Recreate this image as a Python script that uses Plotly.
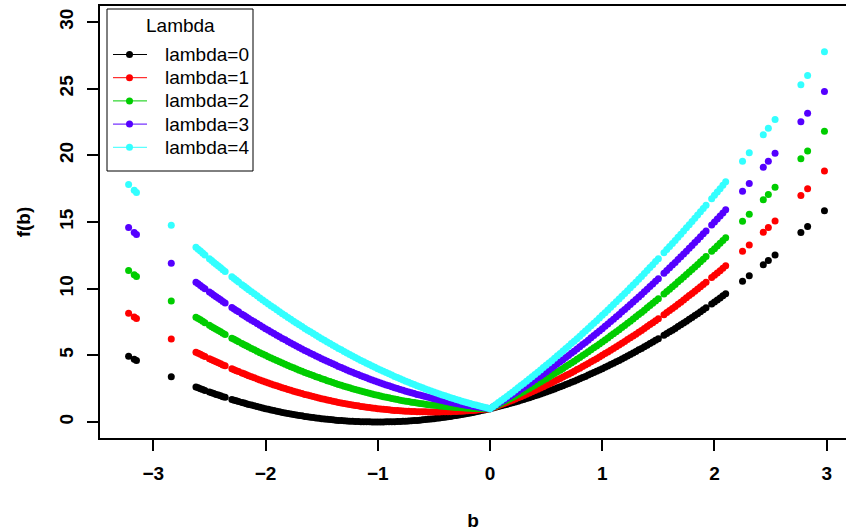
import plotly.graph_objects as go

# sampled coefficients b
b = [
    -3.22, -3.17, -3.15, -2.84,
    -2.62, -2.60, -2.58, -2.56, -2.54,
    -2.50, -2.48, -2.46, -2.44, -2.42, -2.40, -2.38, -2.36,
    -2.30, -2.28, -2.26, -2.24, -2.21, -2.19, -2.17,
    -2.150, -2.125, -2.100, -2.075, -2.050, -2.025, -2.000, -1.975, -1.950, -1.925,
    -1.900, -1.875, -1.850, -1.825, -1.800, -1.775, -1.750, -1.725, -1.700, -1.675,
    -1.650, -1.625, -1.600, -1.575, -1.550, -1.525, -1.500, -1.475, -1.450, -1.425,
    -1.400, -1.375, -1.350, -1.325, -1.300, -1.275, -1.250, -1.225, -1.200, -1.175,
    -1.150, -1.125, -1.100, -1.075, -1.050, -1.025, -1.000, -0.975, -0.950, -0.925,
    -0.900, -0.875, -0.850, -0.825, -0.800, -0.775, -0.750, -0.725, -0.700, -0.675,
    -0.650, -0.625, -0.600, -0.575, -0.550, -0.525, -0.500, -0.475, -0.450, -0.425,
    -0.400, -0.375, -0.350, -0.325, -0.300, -0.275, -0.250, -0.225, -0.200, -0.175,
    -0.150, -0.125, -0.100, -0.075, -0.050, -0.025, 0.000, 0.025, 0.050, 0.075,
    0.100, 0.125, 0.150, 0.175, 0.200, 0.225, 0.250, 0.275, 0.300, 0.325,
    0.350, 0.375, 0.400, 0.425, 0.450, 0.475, 0.500, 0.525, 0.550, 0.575,
    0.600, 0.625, 0.650, 0.675, 0.700, 0.725, 0.750, 0.775, 0.800, 0.825,
    0.850, 0.875, 0.900, 0.925, 0.950, 0.975, 1.000, 1.025, 1.050, 1.075,
    1.100, 1.125, 1.150, 1.175, 1.200, 1.225, 1.250, 1.275, 1.300, 1.325,
    1.350, 1.375, 1.400, 1.425, 1.450, 1.475, 1.500, 1.550, 1.575, 1.600,
    1.625, 1.650, 1.675, 1.700, 1.725, 1.750, 1.775, 1.800, 1.825, 1.850,
    1.875, 1.900, 1.925, 1.975, 2.000, 2.025, 2.050, 2.075, 2.100,
    2.25, 2.31, 2.435, 2.48, 2.54, 2.77, 2.83, 2.98,
]

# f(b) for lambda = 0
f_lambda0 = [
    4.93, 4.71, 4.62, 3.39,
    2.62, 2.56, 2.50, 2.43, 2.37,
    2.25, 2.19, 2.13, 2.07, 2.02, 1.96, 1.90, 1.85,
    1.69, 1.64, 1.59, 1.54, 1.46, 1.42, 1.37,
    1.32, 1.27, 1.21, 1.16, 1.10, 1.05, 1.00, 0.95, 0.90, 0.86,
    0.81, 0.77, 0.72, 0.68, 0.64, 0.60, 0.56, 0.53, 0.49, 0.46,
    0.42, 0.39, 0.36, 0.33, 0.30, 0.28, 0.25, 0.23, 0.20, 0.18,
    0.16, 0.14, 0.12, 0.11, 0.09, 0.08, 0.06, 0.05, 0.04, 0.03,
    0.02, 0.02, 0.01, 0.01, 0.00, 0.00, 0.00, 0.00, 0.00, 0.01,
    0.01, 0.02, 0.02, 0.03, 0.04, 0.05, 0.06, 0.08, 0.09, 0.11,
    0.12, 0.14, 0.16, 0.18, 0.20, 0.23, 0.25, 0.28, 0.30, 0.33,
    0.36, 0.39, 0.42, 0.46, 0.49, 0.53, 0.56, 0.60, 0.64, 0.68,
    0.72, 0.77, 0.81, 0.86, 0.90, 0.95, 1.00, 1.05, 1.10, 1.16,
    1.21, 1.27, 1.32, 1.38, 1.44, 1.50, 1.56, 1.63, 1.69, 1.76,
    1.82, 1.89, 1.96, 2.03, 2.10, 2.18, 2.25, 2.33, 2.40, 2.48,
    2.56, 2.64, 2.72, 2.81, 2.89, 2.98, 3.06, 3.15, 3.24, 3.33,
    3.42, 3.52, 3.61, 3.71, 3.80, 3.90, 4.00, 4.10, 4.20, 4.31,
    4.41, 4.52, 4.62, 4.73, 4.84, 4.95, 5.06, 5.18, 5.29, 5.41,
    5.52, 5.64, 5.76, 5.88, 6.00, 6.13, 6.25, 6.50, 6.63, 6.76,
    6.89, 7.02, 7.16, 7.29, 7.43, 7.56, 7.70, 7.84, 7.98, 8.12,
    8.27, 8.41, 8.56, 8.85, 9.00, 9.15, 9.30, 9.46, 9.61,
    10.56, 10.96, 11.80, 12.11, 12.53, 14.21, 14.67, 15.84,
]

# f(b) for lambda = 1
f_lambda1 = [
    8.15, 7.88, 7.77, 6.23,
    5.24, 5.16, 5.08, 4.99, 4.91,
    4.75, 4.67, 4.59, 4.51, 4.44, 4.36, 4.28, 4.21,
    3.99, 3.92, 3.85, 3.78, 3.67, 3.61, 3.54,
    3.47, 3.39, 3.31, 3.23, 3.15, 3.08, 3.00, 2.93, 2.85, 2.78,
    2.71, 2.64, 2.57, 2.51, 2.44, 2.38, 2.31, 2.25, 2.19, 2.13,
    2.07, 2.02, 1.96, 1.91, 1.85, 1.80, 1.75, 1.70, 1.65, 1.61,
    1.56, 1.52, 1.47, 1.43, 1.39, 1.35, 1.31, 1.28, 1.24, 1.21,
    1.17, 1.14, 1.11, 1.08, 1.05, 1.03, 1.00, 0.98, 0.95, 0.93,
    0.91, 0.89, 0.87, 0.86, 0.84, 0.83, 0.81, 0.80, 0.79, 0.78,
    0.77, 0.77, 0.76, 0.76, 0.75, 0.75, 0.75, 0.75, 0.75, 0.76,
    0.76, 0.77, 0.77, 0.78, 0.79, 0.80, 0.81, 0.83, 0.84, 0.86,
    0.87, 0.89, 0.91, 0.93, 0.95, 0.98, 1.00, 1.08, 1.15, 1.23,
    1.31, 1.39, 1.47, 1.56, 1.64, 1.73, 1.81, 1.90, 1.99, 2.08,
    2.17, 2.27, 2.36, 2.46, 2.55, 2.65, 2.75, 2.85, 2.95, 3.06,
    3.16, 3.27, 3.37, 3.48, 3.59, 3.70, 3.81, 3.93, 4.04, 4.16,
    4.27, 4.39, 4.51, 4.63, 4.75, 4.88, 5.00, 5.13, 5.25, 5.38,
    5.51, 5.64, 5.77, 5.91, 6.04, 6.18, 6.31, 6.45, 6.59, 6.73,
    6.87, 7.02, 7.16, 7.31, 7.45, 7.60, 7.75, 8.05, 8.21, 8.36,
    8.52, 8.67, 8.83, 8.99, 9.15, 9.31, 9.48, 9.64, 9.81, 9.97,
    10.14, 10.31, 10.48, 10.83, 11.00, 11.18, 11.35, 11.53, 11.71,
    12.81, 13.27, 14.23, 14.59, 15.07, 16.98, 17.50, 18.82,
]

# f(b) for lambda = 2
f_lambda2 = [
    11.37, 11.05, 10.92, 9.07,
    7.86, 7.76, 7.66, 7.55, 7.45,
    7.25, 7.15, 7.05, 6.95, 6.86, 6.76, 6.66, 6.57,
    6.29, 6.20, 6.11, 6.02, 5.88, 5.80, 5.71,
    5.62, 5.52, 5.41, 5.31, 5.20, 5.10, 5.00, 4.90, 4.80, 4.71,
    4.61, 4.52, 4.42, 4.33, 4.24, 4.15, 4.06, 3.98, 3.89, 3.81,
    3.72, 3.64, 3.56, 3.48, 3.40, 3.33, 3.25, 3.18, 3.10, 3.03,
    2.96, 2.89, 2.82, 2.76, 2.69, 2.63, 2.56, 2.50, 2.44, 2.38,
    2.32, 2.27, 2.21, 2.16, 2.10, 2.05, 2.00, 1.95, 1.90, 1.86,
    1.81, 1.77, 1.72, 1.68, 1.64, 1.60, 1.56, 1.53, 1.49, 1.46,
    1.42, 1.39, 1.36, 1.33, 1.30, 1.28, 1.25, 1.23, 1.20, 1.18,
    1.16, 1.14, 1.12, 1.11, 1.09, 1.08, 1.06, 1.05, 1.04, 1.03,
    1.02, 1.02, 1.01, 1.01, 1.00, 1.00, 1.00, 1.10, 1.20, 1.31,
    1.41, 1.52, 1.62, 1.73, 1.84, 1.95, 2.06, 2.18, 2.29, 2.41,
    2.52, 2.64, 2.76, 2.88, 3.00, 3.13, 3.25, 3.38, 3.50, 3.63,
    3.76, 3.89, 4.02, 4.16, 4.29, 4.43, 4.56, 4.70, 4.84, 4.98,
    5.12, 5.27, 5.41, 5.56, 5.70, 5.85, 6.00, 6.15, 6.30, 6.46,
    6.61, 6.77, 6.92, 7.08, 7.24, 7.40, 7.56, 7.73, 7.89, 8.06,
    8.22, 8.39, 8.56, 8.73, 8.90, 9.08, 9.25, 9.60, 9.78, 9.96,
    10.14, 10.32, 10.51, 10.69, 10.88, 11.06, 11.25, 11.44, 11.63, 11.82,
    12.02, 12.21, 12.41, 12.80, 13.00, 13.20, 13.40, 13.61, 13.81,
    15.06, 15.58, 16.67, 17.07, 17.61, 19.75, 20.33, 21.80,
]

# f(b) for lambda = 3
f_lambda3 = [
    14.59, 14.22, 14.07, 11.91,
    10.48, 10.36, 10.24, 10.11, 9.99,
    9.75, 9.63, 9.51, 9.39, 9.28, 9.16, 9.04, 8.93,
    8.59, 8.48, 8.37, 8.26, 8.09, 7.99, 7.88,
    7.77, 7.64, 7.51, 7.38, 7.25, 7.13, 7.00, 6.88, 6.75, 6.63,
    6.51, 6.39, 6.27, 6.16, 6.04, 5.93, 5.81, 5.70, 5.59, 5.48,
    5.37, 5.27, 5.16, 5.06, 4.95, 4.85, 4.75, 4.65, 4.55, 4.46,
    4.36, 4.27, 4.17, 4.08, 3.99, 3.90, 3.81, 3.73, 3.64, 3.56,
    3.47, 3.39, 3.31, 3.23, 3.15, 3.08, 3.00, 2.93, 2.85, 2.78,
    2.71, 2.64, 2.57, 2.51, 2.44, 2.38, 2.31, 2.25, 2.19, 2.13,
    2.07, 2.02, 1.96, 1.91, 1.85, 1.80, 1.75, 1.70, 1.65, 1.61,
    1.56, 1.52, 1.47, 1.43, 1.39, 1.35, 1.31, 1.28, 1.24, 1.21,
    1.17, 1.14, 1.11, 1.08, 1.05, 1.03, 1.00, 1.13, 1.25, 1.38,
    1.51, 1.64, 1.77, 1.91, 2.04, 2.18, 2.31, 2.45, 2.59, 2.73,
    2.87, 3.02, 3.16, 3.31, 3.45, 3.60, 3.75, 3.90, 4.05, 4.21,
    4.36, 4.52, 4.67, 4.83, 4.99, 5.15, 5.31, 5.48, 5.64, 5.81,
    5.97, 6.14, 6.31, 6.48, 6.65, 6.83, 7.00, 7.18, 7.35, 7.53,
    7.71, 7.89, 8.07, 8.26, 8.44, 8.63, 8.81, 9.00, 9.19, 9.38,
    9.57, 9.77, 9.96, 10.16, 10.35, 10.55, 10.75, 11.15, 11.36, 11.56,
    11.77, 11.97, 12.18, 12.39, 12.60, 12.81, 13.03, 13.24, 13.46, 13.67,
    13.89, 14.11, 14.33, 14.78, 15.00, 15.23, 15.45, 15.68, 15.91,
    17.31, 17.89, 19.10, 19.55, 20.15, 22.52, 23.16, 24.78,
]

# f(b) for lambda = 4
f_lambda4 = [
    17.81, 17.39, 17.22, 14.75,
    13.10, 12.96, 12.82, 12.67, 12.53,
    12.25, 12.11, 11.97, 11.83, 11.70, 11.56, 11.42, 11.29,
    10.89, 10.76, 10.63, 10.50, 10.30, 10.18, 10.05,
    9.92, 9.77, 9.61, 9.46, 9.30, 9.15, 9.00, 8.85, 8.70, 8.56,
    8.41, 8.27, 8.12, 7.98, 7.84, 7.70, 7.56, 7.43, 7.29, 7.16,
    7.02, 6.89, 6.76, 6.63, 6.50, 6.38, 6.25, 6.13, 6.00, 5.88,
    5.76, 5.64, 5.52, 5.41, 5.29, 5.18, 5.06, 4.95, 4.84, 4.73,
    4.62, 4.52, 4.41, 4.31, 4.20, 4.10, 4.00, 3.90, 3.80, 3.71,
    3.61, 3.52, 3.42, 3.33, 3.24, 3.15, 3.06, 2.98, 2.89, 2.81,
    2.72, 2.64, 2.56, 2.48, 2.40, 2.33, 2.25, 2.18, 2.10, 2.03,
    1.96, 1.89, 1.82, 1.76, 1.69, 1.63, 1.56, 1.50, 1.44, 1.38,
    1.32, 1.27, 1.21, 1.16, 1.10, 1.05, 1.00, 1.15, 1.30, 1.46,
    1.61, 1.77, 1.92, 2.08, 2.24, 2.40, 2.56, 2.73, 2.89, 3.06,
    3.22, 3.39, 3.56, 3.73, 3.90, 4.08, 4.25, 4.43, 4.60, 4.78,
    4.96, 5.14, 5.32, 5.51, 5.69, 5.88, 6.06, 6.25, 6.44, 6.63,
    6.82, 7.02, 7.21, 7.41, 7.60, 7.80, 8.00, 8.20, 8.40, 8.61,
    8.81, 9.02, 9.22, 9.43, 9.64, 9.85, 10.06, 10.28, 10.49, 10.71,
    10.92, 11.14, 11.36, 11.58, 11.80, 12.03, 12.25, 12.70, 12.93, 13.16,
    13.39, 13.62, 13.86, 14.09, 14.33, 14.56, 14.80, 15.04, 15.28, 15.52,
    15.77, 16.01, 16.26, 16.75, 17.00, 17.25, 17.50, 17.76, 18.01,
    19.56, 20.20, 21.54, 22.03, 22.69, 25.29, 25.99, 27.76,
]

lambda_labels = ["lambda=0", "lambda=1", "lambda=2", "lambda=3", "lambda=4"]
series = [f_lambda0, f_lambda1, f_lambda2, f_lambda3, f_lambda4]
colors = ["#000000", "#FF0000", "#00CD00", "#5500FF", "#33FFFF"]

FONT = "Liberation Sans, Arial, sans-serif"
W, H = 846, 531
ML, MR, MT, MB = 100, 0, 6, 93
PW, PH = W - ML - MR, H - MT - MB


def px(xp):
    """Pixel column -> paper x."""
    return (xp - ML) / PW


def py(yp):
    """Pixel row -> paper y."""
    return (H - MB - yp) / PH


fig = go.Figure()
for label, f, col in zip(lambda_labels, series, colors):
    fig.add_trace(go.Scatter(
        x=b, y=f, mode="markers", name=label, showlegend=False,
        marker=dict(color=col, size=7, line=dict(width=0)),
        hoverinfo="skip",
    ))

# boxed legend in the top-left corner: title, key line with a dot, label
shapes = [dict(type="rect", xref="paper", yref="paper",
               x0=px(107), x1=px(253), y0=py(171), y1=py(9),
               line=dict(color="black", width=1), fillcolor="white",
               layer="above")]
annotations = [dict(text="Lambda", xref="paper", yref="paper",
                    x=px(180), y=py(26), xanchor="center", yanchor="middle",
                    showarrow=False, font=dict(family=FONT, size=19))]
for i, (label, col) in enumerate(zip(lambda_labels, colors)):
    yc = 54.5 + 23.2 * i
    shapes.append(dict(type="line", xref="paper", yref="paper",
                       x0=px(113), x1=px(147), y0=py(yc), y1=py(yc),
                       line=dict(color=col, width=1), layer="above"))
    shapes.append(dict(type="circle", xref="paper", yref="paper",
                       x0=px(129.5 - 3.5), x1=px(129.5 + 3.5),
                       y0=py(yc + 3.5), y1=py(yc - 3.5),
                       line=dict(width=0), fillcolor=col, layer="above"))
    annotations.append(dict(text=label, xref="paper", yref="paper",
                            x=px(163), y=py(yc), xanchor="left",
                            yanchor="middle", showarrow=False,
                            font=dict(family=FONT, size=19)))

fig.update_layout(
    width=W, height=H,
    margin=dict(l=ML, r=MR, t=MT, b=MB),
    paper_bgcolor="white", plot_bgcolor="white",
    font=dict(family=FONT, size=19, color="black"),
    showlegend=False,
    shapes=shapes, annotations=annotations,
    xaxis=dict(
        range=[-3.475, 3.172], tickvals=[-3, -2, -1, 0, 1, 2, 3],
        showgrid=False, zeroline=False, showline=True, linecolor="black",
        linewidth=1.5, mirror=True, ticks="outside", ticklen=11, tickwidth=1.5,
        tickcolor="black", ticklabelstandoff=6,
        tickfont=dict(family=FONT, size=19, weight="bold"),
        title=dict(text="<b>b</b>", standoff=32, font=dict(size=19)),
    ),
    yaxis=dict(
        range=[-1.2, 31.2], tickvals=[0, 5, 10, 15, 20, 25, 30],
        showgrid=False, zeroline=False, showline=True, linecolor="black",
        linewidth=1.5, ticks="outside", ticklen=11, tickwidth=1.5,
        tickcolor="black", tickangle=-90, ticklabelstandoff=7,
        tickfont=dict(family=FONT, size=19, weight="bold"),
        title=dict(text="<b>f(b)</b>", standoff=20, font=dict(size=19)),
    ),
)

fig.write_html("out.html")
